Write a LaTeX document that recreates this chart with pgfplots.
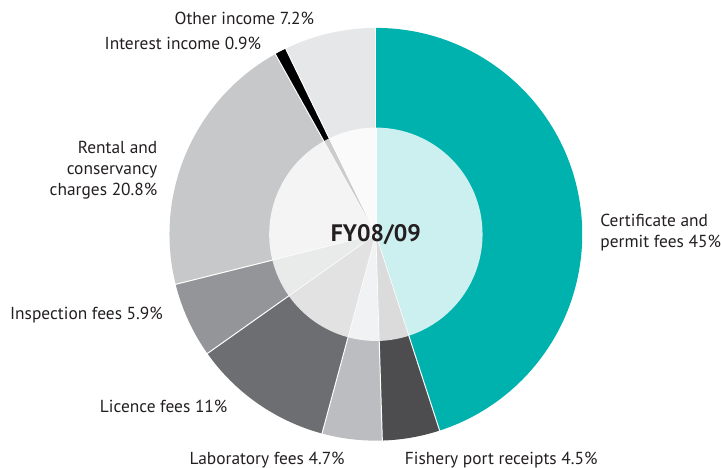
\documentclass[border=0pt]{standalone}
\usepackage{pgfplots}
\pgfplotsset{compat=1.18}
\usepackage{pgfplotstable}
\usepackage{fontspec}
\setmainfont{PT Sans}

\definecolor{cert}{HTML}{00B2AE}
\definecolor{fish}{HTML}{4D4D4F}
\definecolor{lab}{HTML}{BCBDC0}
\definecolor{lic}{HTML}{6D6E71}
\definecolor{insp}{HTML}{939598}
\definecolor{rent}{HTML}{C7C8CA}
\definecolor{intr}{HTML}{000000}
\definecolor{oth}{HTML}{E6E7E8}
\definecolor{txt}{HTML}{231F20}

\pgfplotstableread{
col value
cert 45
fish 4.5
lab 4.7
lic 11
insp 5.9
rent 20.8
intr 0.9
oth 7.2
}\piedata

\begin{document}
\begin{tikzpicture}
\begin{axis}[scale only axis, width=721bp, height=469bp,
  xmin=0, xmax=721, ymin=0, ymax=469, hide axis, clip=false]
\path (axis cs:0,0) rectangle (axis cs:721,469);
% outer ring
\gdef\cum{0}
\pgfplotsinvokeforeach{0,...,7}{
  \pgfplotstablegetelem{#1}{value}\of\piedata \let\val\pgfplotsretval
  \pgfplotstablegetelem{#1}{col}\of\piedata \let\cc\pgfplotsretval
  \pgfmathsetmacro\aA{90-3.6*\cum}
  \pgfmathsetmacro\aB{90-3.6*(\cum+\val)}
  \pgfmathsetmacro\newcum{\cum+\val}
  \global\let\cum\newcum
  \edef\tmp{\noexpand\fill[\cc] (axis cs:377,234) -- ++(\aA:207bp) arc[start angle=\aA, end angle=\aB, radius=207bp] -- cycle;}
  \tmp
}
\gdef\cum{0}
\pgfplotsinvokeforeach{0,...,7}{
  \pgfplotstablegetelem{#1}{value}\of\piedata \let\val\pgfplotsretval
  \pgfmathsetmacro\aA{90-3.6*\cum}
  \pgfmathsetmacro\newcum{\cum+\val}
  \global\let\cum\newcum
  \edef\tmp{\noexpand\draw[white, line width=1pt] (axis cs:377,234) -- ++(\aA:208bp);}
  \tmp
}
% inner circle
\gdef\cum{0}
\pgfplotsinvokeforeach{0,...,7}{
  \pgfplotstablegetelem{#1}{value}\of\piedata \let\val\pgfplotsretval
  \pgfplotstablegetelem{#1}{col}\of\piedata \let\cc\pgfplotsretval
  \pgfmathsetmacro\aA{90-3.6*\cum}
  \pgfmathsetmacro\aB{90-3.6*(\cum+\val)}
  \pgfmathsetmacro\newcum{\cum+\val}
  \global\let\cum\newcum
  \edef\tmp{\noexpand\fill[\cc!20!white] (axis cs:377,234) -- ++(\aA:107bp) arc[start angle=\aA, end angle=\aB, radius=107bp] -- cycle;}
  \tmp
}
\gdef\cum{0}
\pgfplotsinvokeforeach{0,...,7}{
  \pgfplotstablegetelem{#1}{value}\of\piedata \let\val\pgfplotsretval
  \pgfmathsetmacro\aA{90-3.6*\cum}
  \pgfmathsetmacro\newcum{\cum+\val}
  \global\let\cum\newcum
  \edef\tmp{\noexpand\draw[white, line width=0.6pt] (axis cs:377,234) -- ++(\aA:107bp);}
  \tmp
}
% labels
\tikzset{lbl/.style={font=\fontsize{17.5}{21}\selectfont, inner sep=0pt, text=txt}}
\node[lbl, anchor=west] at (axis cs:175,451) {Other income 7.2\%};
\node[lbl, anchor=east] at (axis cs:262,425) {Interest income 0.9\%};
\node[lbl, anchor=east, align=right] at (axis cs:158,298) {Rental and\\conservancy\\charges 20.8\%};
\node[lbl, anchor=west] at (axis cs:10,153) {Inspection fees 5.9\%};
\node[lbl, anchor=west] at (axis cs:100,61) {Licence fees 11\%};
\node[lbl, anchor=west] at (axis cs:190,8) {Laboratory fees 4.7\%};
\node[lbl, anchor=west] at (axis cs:406,8) {Fishery port receipts 4.5\%};
\node[lbl, anchor=west, align=left] at (axis cs:602,236) {Certificate and\\permit fees 45\%};
\node[font=\fontsize{24}{28}\selectfont\bfseries, inner sep=0pt, text=txt] at (axis cs:377,234) {FY08/09};
\end{axis}
\end{tikzpicture}
\end{document}
